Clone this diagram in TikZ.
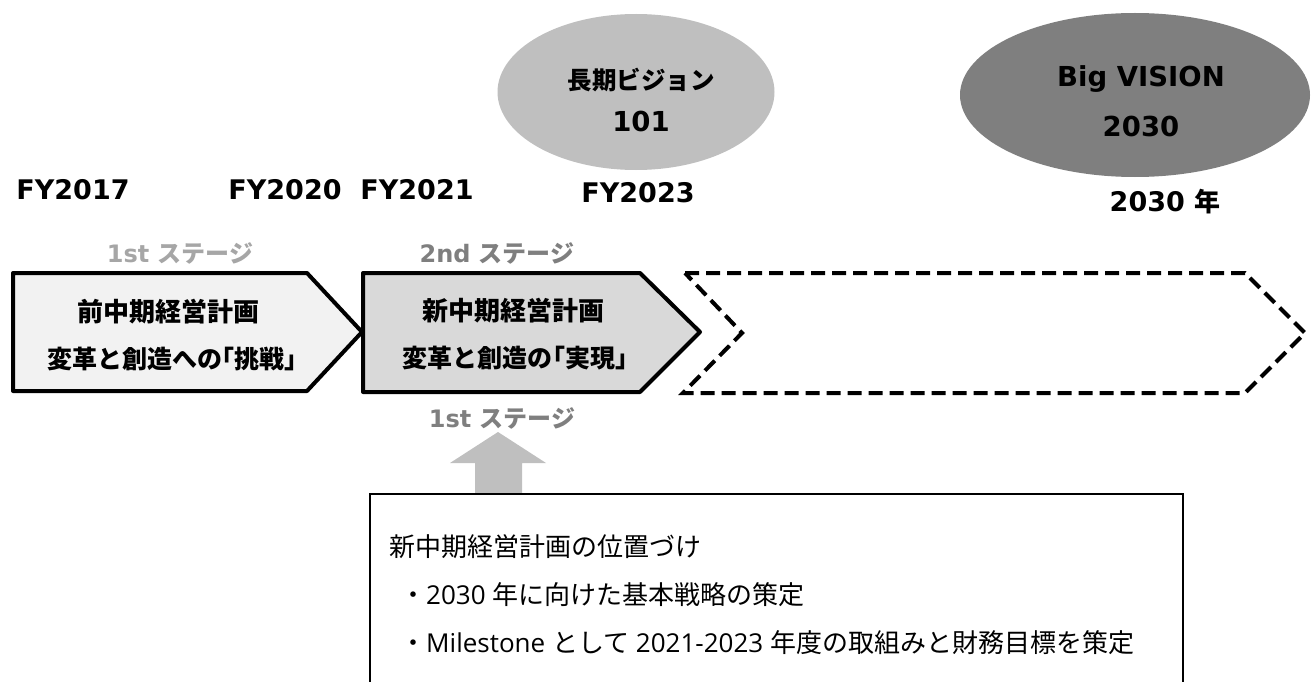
\documentclass[tikz,border=0pt]{standalone}
\usepackage{fontspec}
\usetikzlibrary{shapes.geometric}
\newfontfamily\jp{Noto Sans CJK JP}
\newfontfamily\lat{DejaVu Sans}
\newfontfamily\bl{Open Sans}
\newcommand\lbr{\kern-0.5em「}
\newcommand\rbr{」\kern-0.5em}
\definecolor{pfillA}{HTML}{F2F2F2}
\definecolor{pfillB}{HTML}{D9D9D9}
\definecolor{ellA}{HTML}{BFBFBF}
\definecolor{ellB}{HTML}{7F7F7F}
\definecolor{stageL}{HTML}{A6A6A6}
\definecolor{stageD}{HTML}{7F7F7F}
\definecolor{arrowG}{HTML}{BFBFBF}
\tikzset{
  yearlbl/.style={inner sep=0, font=\lat\bfseries\fontsize{27}{30}\selectfont},
  jplbl/.style={inner sep=0, font=\jp\bfseries\fontsize{26}{30}\selectfont},
  jpsub/.style={inner sep=0, font=\jp\bfseries\fontsize{25}{30}\selectfont},
  elltxt/.style={inner sep=0, font=\lat\bfseries\fontsize{27.5}{30}\selectfont},
  stagelbl/.style={inner sep=0, font=\fontsize{24}{28}\selectfont},
  boxtxt/.style={inner sep=0, anchor=west, font=\fontsize{26}{30}\selectfont},
  stagebox/.style={line width=4pt, line join=round, draw=black},
  futurebox/.style={line width=4pt, draw=black, dash pattern=on 14pt off 7pt},
}
\begin{document}
\begin{tikzpicture}[x=1pt,y=-1pt]
\useasboundingbox (0,0) rectangle (1314,682);

% ellipses
\node[ellipse, fill=ellA, minimum width=277pt, minimum height=156pt, inner sep=0] (vis101) at (636,92) {};
\node[ellipse, fill=ellB, minimum width=350pt, minimum height=164pt, inner sep=0] (vis2030) at (1135,95) {};
\node[jplbl, font=\jp\bfseries\fontsize{24.5}{28}\selectfont] (v101a) at (641,80) {長期ビジョン};
\node[elltxt] (v101b) at (641,121) {101};
\node[elltxt] (v2030a) at (1141,79) {Big VISION};
\node[elltxt] (v2030b) at (1141,126) {2030};

% years
\node[yearlbl] (fy17) at (73,190) {FY2017};
\node[yearlbl] (fy20) at (285,190) {FY2020};
\node[yearlbl] (fy21) at (417,190) {FY2021};
\node[yearlbl] (fy23) at (638,193) {FY2023};
\node[inner sep=0] (y2030) at (1165,202) {{\lat\bfseries\fontsize{27}{30}\selectfont 2030 }{\jp\bfseries\fontsize{26}{30}\selectfont 年}};

% stage labels
\node[stagelbl, text=stageL] (st1) at (180,253) {{\lat\bfseries 1st }{\jp\bfseries ステージ}};
\node[stagelbl, text=stageD] (st2) at (497,253) {{\lat\bfseries 2nd }{\jp\bfseries ステージ}};
\node[stagelbl, text=stageD] (st1b) at (502,418) {{\lat\bfseries 1st }{\jp\bfseries ステージ}};

% stage pentagons
\fill[pfillA] (13,273) -- (307,273) -- (362,332) -- (307,391) -- (13,391) -- cycle;
\draw[stagebox] (13,273) -- (307,273) -- (362,332) -- (307,391) -- (13,391) -- cycle;
\fill[pfillB] (363,273) -- (640,273) -- (700,332) -- (640,392) -- (363,392) -- cycle;
\draw[stagebox] (363,273) -- (640,273) -- (700,332) -- (640,392) -- (363,392) -- cycle;
\draw[futurebox] (685,273) -- (1245,273) -- (1305,333) -- (1245,393) -- (683,393) -- (742,333) -- cycle;

\node[jplbl] (p1a) at (168,312) {前中期経営計画};
\node[jpsub] (p1b) at (172,359) {変革と創造への\lbr 挑戦\rbr};
\node[jplbl] (p2a) at (513,311) {新中期経営計画};
\node[jpsub] (p2b) at (515,358) {変革と創造の\lbr 実現\rbr};

% up arrow
\fill[arrowG] (498,432) -- (546,463) -- (522,463) -- (522,493) -- (475,493) -- (475,463) -- (450,463) -- cycle;

% description box
\coordinate (bxbl) at (370,684);
\coordinate (bxtl) at (370,494);
\coordinate (bxtr) at (1183,494);
\coordinate (bxbr) at (1183,684);
\draw[line width=2pt] (bxbl) -- (bxtl) -- (bxtr) -- (bxbr);
\node[boxtxt] (d1) at (389,547) {\jp 新中期経営計画の位置づけ};
\node[boxtxt] (d2) at (400,595) {{\jp ・}{\bl 2030 }{\jp 年に向けた基本戦略の策定}};
\node[boxtxt] (d3) at (400,643) {{\jp ・}{\bl Milestone }{\jp として}{\bl\ 2021-2023 }{\jp 年度の取組みと財務目標を策定}};
\end{tikzpicture}
\end{document}
